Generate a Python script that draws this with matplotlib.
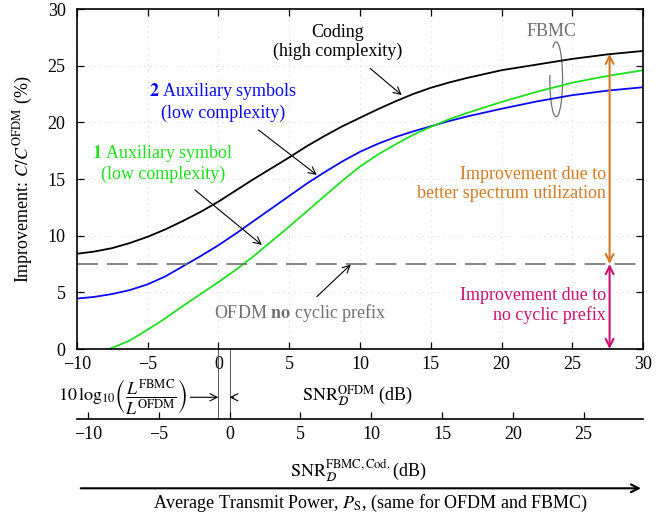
import matplotlib
matplotlib.use('Agg')
import matplotlib.pyplot as plt
from matplotlib.patches import Arc

plt.rcParams['font.family'] = ['Liberation Serif', 'DejaVu Serif']
plt.rcParams['mathtext.fontset'] = 'stix'
plt.rcParams['font.size'] = 13
plt.rcParams['lines.scale_dashes'] = False

# ---------------- data ----------------
snr_ofdm = [-10, -8.75, -7.5, -6.25, -5, -3.75, -2.5, -1.25, 0, 1.25, 2.5, 3.75, 5, 6.25, 7.5,
            8.75, 10, 11.25, 12.5, 13.75, 15, 16.25, 17.5, 20, 22.5, 25, 27.5, 30]
coding = [8.4, 8.6, 8.9, 9.35, 9.9, 10.55, 11.3, 12.1, 13.0, 14.0, 15.0, 15.95, 16.9, 17.9, 18.8,
          19.65, 20.4, 21.15, 21.85, 22.5, 23.05, 23.5, 23.9, 24.6, 25.1, 25.6, 26.0, 26.3]
aux2 = [4.45, 4.6, 4.85, 5.2, 5.7, 6.4, 7.3, 8.2, 9.15, 10.2, 11.3, 12.4, 13.5, 14.6, 15.6,
        16.55, 17.4, 18.1, 18.7, 19.2, 19.65, 20.1, 20.5, 21.2, 21.85, 22.4, 22.8, 23.1]
snr_aux1 = [-7.7, -6.25, -5, -3.75, -2.5, -1.25, 0, 1.25, 2.5, 3.75, 5, 6.25, 7.5,
            8.75, 10, 11.25, 12.5, 13.75, 15, 16.25, 17.5, 20, 22.5, 25, 27.5, 30]
aux1 = [0.0, 0.75, 1.7, 2.7, 3.8, 4.85, 5.9, 7.0, 8.2, 9.5, 10.8, 12.15, 13.5,
        14.85, 16.1, 17.15, 18.05, 18.9, 19.6, 20.25, 20.8, 21.8, 22.7, 23.5, 24.1, 24.6]
ofdm_no_cp = 7.5
cp_offset_db = 0.79           # 10 log10(L_FBMC / L_OFDM)
x_ticks = [-10, -5, 0, 5, 10, 15, 20, 25, 30]
y_ticks = [0, 5, 10, 15, 20, 25, 30]
x2_ticks = [-10, -5, 0, 5, 10, 15, 20, 25]

W, H = 670, 517
fig = plt.figure(figsize=(W / 100, H / 100), dpi=100)

def fx(px):
    return px / W

def fy(py):
    return 1 - py / H

L, R, T, B = 76.7, 643.3, 9, 349
ax = fig.add_axes([fx(L), fy(B), (R - L) / W, (B - T) / H])

green = '#1EE01E'
blue = '#0A0AF0'
orange = '#D27A26'
magenta = '#CC1170'
gray = '#707070'

ax.plot(snr_ofdm, coding, color='black', lw=1.3)
ax.plot(snr_ofdm, aux2, color=blue, lw=1.3)
ax.plot(snr_aux1, aux1, color=green, lw=1.3)
ax.axhline(ofdm_no_cp, color=gray, lw=1.2, dashes=(15, 6.5))

ax.set_xlim(-10, 30)
ax.set_ylim(0, 30)
ax.set_xticks(x_ticks)
ax.set_yticks(y_ticks)
ax.set_xticklabels([str(t).replace('-', '\u2212') for t in x_ticks])
ax.set_yticklabels([str(t) for t in y_ticks])
ax.tick_params(direction='in', top=True, right=True, length=5, width=0.9)
ax.tick_params(axis='x', pad=5)
ax.tick_params(axis='y', pad=8)
ax.grid(True, color='#d8d8d8', lw=0.6, ls=(0, (1, 3)))
for s in ax.spines.values():
    s.set_linewidth(1.2)
ax.set_ylabel(r'Improvement: $C/C^{\mathrm{OFDM}}$ (%)', labelpad=9)

# --- curve labels & arrows ---
arr = dict(arrowstyle='->', lw=0.8, color='black', shrinkA=0, shrinkB=0)
ax.text(8.42, 27.1, 'Coding\n(high complexity)', ha='center', va='center', linespacing=1.15)
ax.annotate('', xy=(12.95, 22.4), xytext=(10.71, 24.77), arrowprops=arr)

ax.text(0.37, 21.83, r'$\mathbf{2}$ Auxiliary symbols' + '\n(low complexity)', color=blue,
        ha='center', va='center', linespacing=1.15)
ax.annotate('', xy=(6.95, 15.36), xytext=(2.83, 19.33), arrowprops=arr)

ax.text(-3.9, 16.44, r'$\mathbf{1}$ Auxiliary symbol' + '\n(low complexity)', color=green,
        ha='center', va='center', linespacing=1.15)
ax.annotate('', xy=(3.07, 9.18), xytext=(-1.65, 14.03), arrowprops=arr)

ax.text(5.77, 3.15, r'OFDM $\mathbf{no}$ cyclic prefix', color=gray, ha='center', va='center')
ax.annotate('', xy=(9.35, 7.45), xytext=(6.95, 4.62), arrowprops=arr)

ax.text(23.55, 28.0, 'FBMC', color=gray, ha='center', va='center')
ax.add_patch(Arc((23.85, 23.8), 0.9, 6.6, theta1=140, theta2=455, color=gray, lw=0.9))

# --- improvement arrows ---
xa = 27.62
ax.annotate('', xy=(xa, 26.05), xytext=(xa, ofdm_no_cp),
            arrowprops=dict(arrowstyle='<->', lw=1.5, color=orange, shrinkA=0, shrinkB=0,
                            mutation_scale=14))
ax.annotate('', xy=(xa, ofdm_no_cp), xytext=(xa, 0),
            arrowprops=dict(arrowstyle='<->', lw=1.5, color=magenta, shrinkA=0, shrinkB=0,
                            mutation_scale=14))
ax.text(27.36, 14.6, 'Improvement due to\nbetter spectrum utilization', color=orange,
        ha='right', va='center', linespacing=1.15)
ax.text(27.36, 3.88, 'Improvement due to\nno cyclic prefix', color=magenta,
        ha='right', va='center', linespacing=1.15)

# --- offset marks below the axes ---
y_row = -4.26
y_bot = -6.18
for xv in [0, cp_offset_db]:
    ax.plot([xv, xv], [0, y_bot], color='#555555', lw=0.7, clip_on=False)
ax.annotate('', xy=(0, y_row), xytext=(-1.98, y_row), annotation_clip=False,
            arrowprops=dict(arrowstyle='->', lw=0.8, color='black', shrinkA=0, shrinkB=0))
ax.annotate('', xy=(cp_offset_db, y_row), xytext=(cp_offset_db + 0.3, y_row), annotation_clip=False,
            arrowprops=dict(arrowstyle='->', lw=0.8, color='black', shrinkA=0, shrinkB=0))
fig.text(fx(188), fy(397.3),
         r'$10\,\log_{10}\!\left(\dfrac{L^{\mathrm{FBMC}}}{L^{\mathrm{OFDM}}}\right)$',
         ha='right', va='center', fontsize=13)
fig.text(fx(358), fy(396), r'$\mathrm{SNR}_{\mathcal{D}}^{\mathrm{OFDM}}$ (dB)', ha='center', va='center')

# --- second (FBMC) axis ---
ax2 = fig.add_axes([fx(L), fy(419), (R - L) / W, 0.0001])
ax2.set_xlim(-10 - cp_offset_db, 30 - cp_offset_db)
ax2.set_ylim(0, 1)
for k in ['top', 'left', 'right']:
    ax2.spines[k].set_visible(False)
ax2.spines['bottom'].set_linewidth(1.2)
ax2.set_yticks([])
ax2.set_xticks(x2_ticks)
ax2.set_xticklabels([str(t).replace('-', '\u2212') for t in x2_ticks])
ax2.tick_params(axis='x', direction='in', length=5, width=0.9, pad=5)
ax2.patch.set_visible(False)
fig.text(fx(358), fy(470), r'$\mathrm{SNR}_{\mathcal{D}}^{\mathrm{FBMC,Cod.}}$(dB)', ha='center', va='center')

# --- transmit power arrow ---
ax.annotate('', xy=(fx(641), fy(488.3)), xytext=(fx(80.7), fy(488.3)), xycoords='figure fraction',
            textcoords='figure fraction', annotation_clip=False,
            arrowprops=dict(arrowstyle='->', lw=1.5, color='black', shrinkA=0, shrinkB=0,
                            mutation_scale=14))
fig.text(fx(370), fy(503.3), r'Average Transmit Power, $P_{\mathrm{S}}$, (same for OFDM and FBMC)',
         ha='center', va='center')

fig.savefig('out.png', dpi=100)
